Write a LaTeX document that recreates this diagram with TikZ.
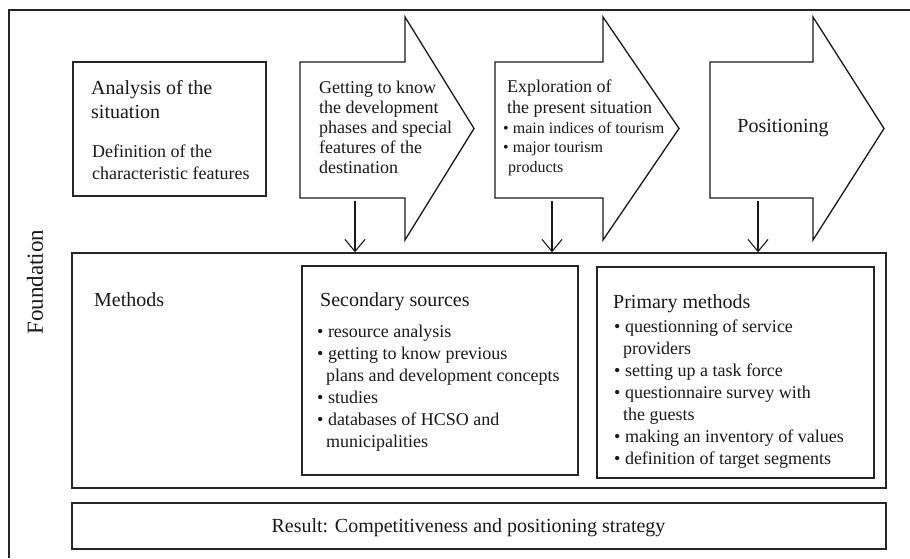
\documentclass[tikz,border=0pt]{standalone}
\usepackage{fontspec}
\setmainfont{Liberation Serif}
\usetikzlibrary{positioning, arrows.meta}
\tikzstyle{diagram} = [x = 1pt, y = -1pt]
\tikzstyle{frameLine} = [color=black!85, line width=1.1pt]
\tikzstyle{boxStyle} = [draw=black!85, line width=1.4pt, inner sep=0pt]
\tikzstyle{stageStyle} = [draw=black!90, line width=1.3pt, fill=white]
\tikzstyle{downArrow} = [color=black!90, line width=1.1pt, -{Straight Barb[length=12pt, width=20pt]}]
\tikzstyle{titleText} = [font=\fontsize{20}{24}\selectfont, text=black!90, inner sep=0pt, anchor=base west, align=left]
\tikzstyle{bodyText} = [font=\fontsize{18}{20}\selectfont, text=black!90, inner sep=0pt, anchor=base west, align=left]
\tikzstyle{listText} = [font=\fontsize{18}{22}\selectfont, text=black!90, inner sep=0pt, anchor=base west, align=left]
\tikzstyle{smallList} = [font=\fontsize{16}{19.5}\selectfont, text=black!90, inner sep=0pt, anchor=base west, align=left]
\newcommand{\bodyTop}{62}
\newcommand{\bodyBottom}{198}
\newcommand{\headTop}{17}
\newcommand{\headBottom}{240}
\newcommand{\tipY}{128.5}
\newcommand{\stageArrow}[5]{
  \draw [stageStyle] (#1, \bodyTop) -- (#2, \bodyTop) -- (#2, \headTop) -- (#3, \tipY)
    -- (#2, \headBottom) -- (#2, \bodyBottom) -- (#1, \bodyBottom) -- cycle;
  \coordinate (#5) at (#4, \bodyBottom);
}
\begin{document}
\begin{tikzpicture}[diagram]
    \useasboundingbox (0,0) rectangle (910,558);
    \draw [frameLine] (910,10) -| (9,558);
    \node [rotate=90, font=\fontsize{23}{26}\selectfont, text=black!90] (foundation) at (35,282) {Foundation};
    \node [boxStyle, minimum width=193, minimum height=134] (analysis) at (169.5,129) {};
    \node [titleText] (analysisTitle) at (91,118) {Analysis of the\\situation};
    \node [listText] (analysisText) at (92,179) {Definition of the\\characteristic features};
    \foreach \arrowLeft/\arrowNotch/\arrowTip/\arrowFoot/\arrowName in
      {300/405/474/355/stageOne, 495/603/679/552/stageTwo, 710/813/884/758/stageThree} {
      \stageArrow{\arrowLeft}{\arrowNotch}{\arrowTip}{\arrowFoot}{\arrowName}
    }
    \node [bodyText] (stageOneText) at (319,173) {Getting to know\\the development\\phases and special\\features of the\\destination};
    \node [bodyText, font=\fontsize{18}{21}\selectfont] (stageTwoTitle) at (507,113) {Exploration of\\the present situation};
    \node [smallList] (stageTwoList) at (503,172) {• main indices of tourism\\• major tourism\\\hspace*{5pt}products};
    \node [font=\fontsize{20}{24}\selectfont, text=black!90, anchor=base] (stageThreeText) at (783,132) {Positioning};
    \node [boxStyle, minimum width=814, minimum height=235] (methods) at (479,370.5) {};
    \node [titleText] (methodsTitle) at (94,306) {Methods};
    \node [boxStyle, minimum width=276, minimum height=209] (secondary) at (440,370.5) {};
    \node [titleText] (secondaryTitle) at (320,306) {Secondary sources};
    \node [listText] (secondaryList) at (317,447) {• resource analysis\\• getting to know previous\\\hspace*{9pt}plans and development concepts\\• studies\\• databases of HCSO and\\\hspace*{9pt}municipalities};
    \node [boxStyle, minimum width=277, minimum height=211] (primary) at (735.5,372.5) {};
    \node [titleText] (primaryTitle) at (613,308) {Primary methods};
    \node [listText] (primaryList) at (614,464) {• questionning of service\\\hspace*{9pt}providers\\• setting up a task force\\• questionnaire survey with\\\hspace*{9pt}the guests\\• making an inventory of values\\• definition of target segments};
    \node [boxStyle, minimum width=814, minimum height=46] (result) at (479,526) {};
    \node [font=\fontsize{20}{24}\selectfont, text=black!90, anchor=base] (resultText) at (468.5,532) {Result: Competitiveness and positioning strategy};
    \foreach \footName in {stageOne, stageTwo, stageThree}
      \draw [downArrow, shorten <=3pt] (\footName) -- (\footName |- methods.north);
\end{tikzpicture}
\end{document}
